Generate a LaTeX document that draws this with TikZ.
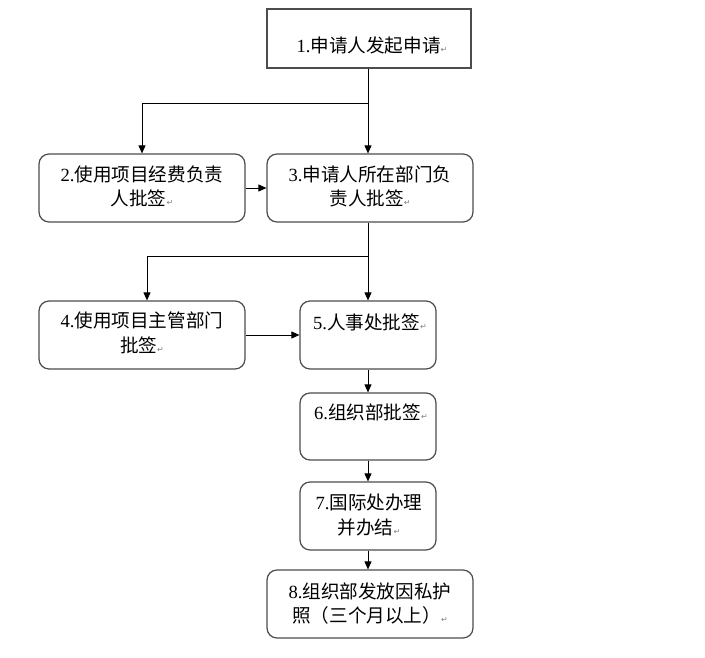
\documentclass[tikz,border=0pt]{standalone}
\usepackage{fontspec}
\setmainfont{Liberation Serif}
\newfontfamily\cjk{Noto Sans CJK SC}
\newfontfamily\symfont{DejaVu Sans}
\usetikzlibrary{arrows.meta}
\newcommand\zh[1]{{\cjk #1}}
\newcommand\pmk{{\symfont\fontsize{8}{8}\selectfont\color{gray}↵}}
\begin{document}
\begin{tikzpicture}[x=1pt,y=-1pt,
  box/.style={draw=black!70,line width=1.2pt,rounded corners=10pt,minimum width=206pt,minimum height=68pt,inner sep=0pt},
  sbox/.style={box,minimum width=136pt},
  txt/.style={inner sep=0pt,align=center,font=\fontsize{18.6}{24.5}\selectfont},
  arr/.style={draw=black,line width=0.9pt,-{Triangle[length=8pt,width=7pt]}},
  ln/.style={draw=black,line width=0.9pt}]
\useasboundingbox (0,0) rectangle (705,658);
% boxes
\node[box,rounded corners=0pt,minimum width=204pt,minimum height=59pt] (b1) at (369,38.5) {};
\node[box] (b2) at (142,188) {};
\node[box] (b3) at (370,188) {};
\node[box] (b4) at (142,335) {};
\node[sbox] (b5) at (368,335) {};
\node[sbox,minimum height=67pt] (b6) at (368,426.5) {};
\node[sbox] (b7) at (368,516) {};
\node[box] (b8) at (370,604) {};
% texts
\node[txt] (t1) at (372,45) {1.\zh{申请人发起申请}\pmk};
\node[txt] (t2) at (142,186.5) {2.\zh{使用项目经费负责}\\\zh{人批签}\pmk};
\node[txt] (t3) at (370,186.5) {3.\zh{申请人所在部门负}\\\zh{责人批签}\pmk};
\node[txt] (t4) at (142,333) {4.\zh{使用项目主管部门}\\\zh{批签}\pmk};
\node[txt] (t5) at (370,322) {5.\zh{人事处批签}\pmk};
\node[txt] (t6) at (371,412) {6.\zh{组织部批签}\pmk};
\node[txt] (t7) at (369,515) {7.\zh{国际处办理}\\\zh{并办结}\pmk};
\node[txt] (t8) at (370,603.5) {8.\zh{组织部发放因私护}\\\zh{照（三个月以上）}\pmk};
% junctions
\coordinate (j1) at (368,103);
\coordinate (j2) at (368,256);
\coordinate (k2) at (147,256);
% connectors
\draw[arr] (b1.south -| j1) -- (b3.north -| j1);
\draw[arr] (j1) -| (b2.north);
\draw[arr] (b2.east) -- (b3.west);
\draw[arr] (b3.south -| j2) -- (b5.north -| j2);
\draw[arr] (j2) -- (k2) -- (k2 |- b4.north);
\draw[arr] (b4.east) -- (b5.west);
\draw[arr] (b5.south -| j2) -- (b6.north -| j2);
\draw[arr] (b6.south -| j2) -- (b7.north -| j2);
\draw[arr] (b7.south -| j2) -- (b8.north -| j2);
\end{tikzpicture}
\end{document}
